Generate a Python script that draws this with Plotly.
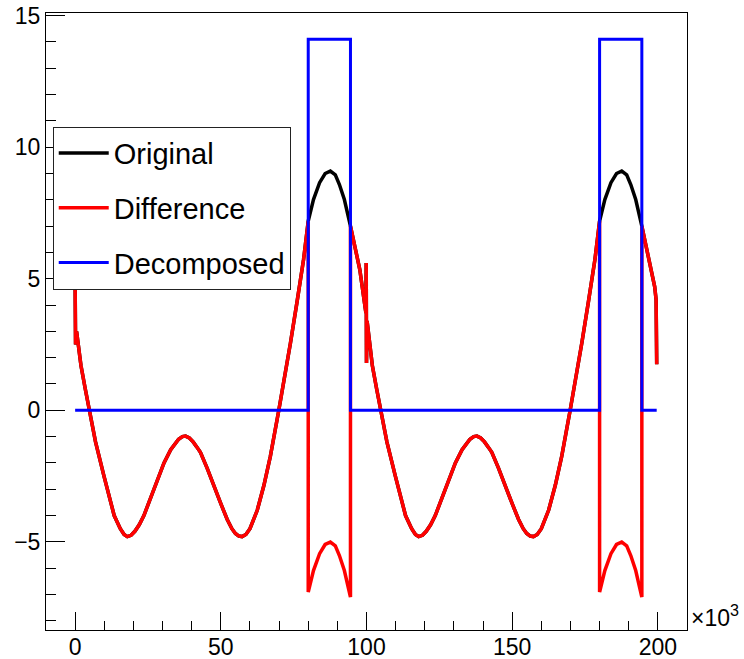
import numpy as np
import plotly.graph_objects as go

# ---- data (x in units of 10^3) ----
orig_x = [0, 0.15, 0.5, 2, 3.5, 4.8, 7, 9.9, 11.8, 13.4, 15.5, 16.8, 17.9, 19.2, 20.5, 22, 23.6,
          26, 28.2, 30.5, 32.8, 34.3, 35.5, 36.8, 37.9, 39.2, 40.5, 41.8, 43, 45.3, 47.6, 50, 52.2,
          53.8, 55, 56.2, 57.3, 58.6, 60, 61.2, 62.5, 64.8, 67, 69.9, 71.9, 73.9, 76.2, 78.4,
          80, 81.8, 83.9, 85.8, 87.6, 89.3, 90.7, 92.4, 94.5, 96.1, 97.7, 99.8, 99.9, 100.0, 100.2,
          102, 103.5, 104.8, 107, 109.9, 111.8, 113.4, 115.5, 116.8, 117.9, 119.2, 120.5, 122, 123.6,
          126, 128.2, 130.5, 132.8, 134.3, 135.5, 136.8, 137.9, 139.2, 140.5, 141.8, 143, 145.3,
          147.6, 150, 152.2, 153.8, 155, 156.2, 157.3, 158.6, 160, 161.2, 162.5, 164.8, 167, 169.9,
          171.9, 173.9, 176.2, 178.4, 180, 181.8, 183.9, 185.8, 187.6, 189.3, 190.7, 192.4, 194.5,
          196.1, 197.7, 198.9, 199.4, 199.6]
orig_y = [4.8, 2.5, 3.0, 1.7, 0.8, 0.0, -1.2, -2.5, -3.35, -4.0, -4.5, -4.72, -4.8, -4.75, -4.6, -4.35, -4.0,
          -3.3, -2.6, -2.0, -1.5, -1.25, -1.1, -1.0, -0.98, -1.05, -1.2, -1.4, -1.6, -2.2, -2.9, -3.55, -4.15,
          -4.5, -4.68, -4.78, -4.8, -4.72, -4.5, -4.2, -3.8, -2.85, -1.75, 0.0, 1.25, 2.56, 4.15, 5.73,
          7.19, 8.01, 8.65, 9.0, 9.09, 8.95, 8.58, 8.01, 7.0, 6.2, 5.35, 3.7, 5.6, 1.8, 3.4,
          1.7, 0.8, 0.0, -1.2, -2.5, -3.35, -4.0, -4.5, -4.72, -4.8, -4.75, -4.6, -4.35, -4.0,
          -3.3, -2.6, -2.0, -1.5, -1.25, -1.1, -1.0, -0.98, -1.05, -1.2, -1.4, -1.6, -2.2,
          -2.9, -3.55, -4.15, -4.5, -4.68, -4.78, -4.8, -4.72, -4.5, -4.2, -3.8, -2.85, -1.75, 0.0,
          1.25, 2.56, 4.15, 5.73, 7.19, 8.01, 8.65, 9.0, 9.09, 8.95, 8.58, 8.01, 7.0,
          6.2, 5.4, 4.7, 4.2, 1.75]

block_starts = [80, 180]
block_ends = [94.5, 194.5]
block_height = 14.1

dec_x = [0, 80, 80, 94.5, 94.5, 180, 180, 194.5, 194.5, 199.6]
dec_y = [0, 0, 14.1, 14.1, 0, 0, 14.1, 14.1, 0, 0]

# difference = original - decomposed
diff_x, diff_y = [], []
for x, y in zip(orig_x, orig_y):
    if x in block_starts:
        diff_x += [x, x]; diff_y += [y, y - block_height]
    elif x in block_ends:
        diff_x += [x, x]; diff_y += [y - block_height, y]
    elif any(s < x < e for s, e in zip(block_starts, block_ends)):
        diff_x.append(x); diff_y.append(y - block_height)
    else:
        diff_x.append(x); diff_y.append(y)

FONT = "Liberation Sans, Arial, Helvetica, sans-serif"

fig = go.Figure()
fig.add_trace(go.Scatter(x=orig_x, y=orig_y, mode="lines", name="Original",
                         legendgroup="a", line=dict(color="black", width=3.5)))
fig.add_trace(go.Scatter(x=diff_x, y=diff_y, mode="lines", name="Difference",
                         legendgroup="b", line=dict(color="#ff0000", width=3.5)))
fig.add_trace(go.Scatter(x=dec_x, y=dec_y, mode="lines", name="Decomposed",
                         legendgroup="c", line=dict(color="#0000ff", width=3)))

fig.update_layout(
    width=744, height=659,
    margin=dict(l=46, r=57, t=13, b=29),
    paper_bgcolor="white", plot_bgcolor="white",
    font=dict(family=FONT, size=23, color="black"),
    showlegend=True,
    legend=dict(x=0.0105, y=0.8157, xanchor="left", yanchor="top",
                bgcolor="white", bordercolor="#222", borderwidth=1,
                font=dict(size=29, family=FONT), tracegroupgap=14,
                itemwidth=50, traceorder="grouped"),
    xaxis=dict(range=[-10, 210], showgrid=False, zeroline=False, automargin=False,
               showline=True, linecolor="black", linewidth=1, mirror=True,
               ticks="inside", ticklen=18, tickcolor="black", tickwidth=1,
               tick0=0, dtick=50, ticklabelstandoff=-4,
               minor=dict(ticks="inside", ticklen=9, dtick=10, tick0=0,
                          tickcolor="black", showgrid=False),
               tickfont=dict(size=23, family=FONT)),
    yaxis=dict(range=[-8.35, 15.1], showgrid=False, zeroline=False, automargin=False,
               showline=True, linecolor="black", linewidth=1, mirror=True,
               ticks="inside", ticklen=19, tickcolor="black", tickwidth=1,
               tick0=0, dtick=5,
               minor=dict(ticks="inside", ticklen=10, dtick=1, tick0=0,
                          tickcolor="black", showgrid=False),
               tickfont=dict(size=23, family=FONT)),
    annotations=[dict(text="×10<sup>3</sup>", xref="paper", yref="paper",
                      x=1, y=0, xanchor="left", yanchor="middle",
                      xshift=2, yshift=14, showarrow=False,
                      font=dict(size=23, family=FONT))],
)

fig.write_html("out.html")
